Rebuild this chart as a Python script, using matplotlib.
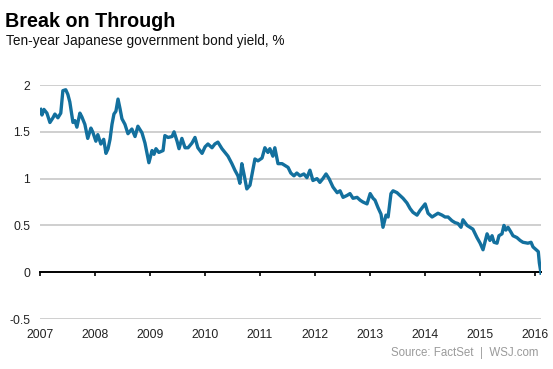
import numpy as np
import pandas as pd
import matplotlib
matplotlib.use("Agg")
import matplotlib.pyplot as plt
import matplotlib.dates as mdates

plt.rcParams["font.family"] = ["Liberation Sans", "DejaVu Sans"]

TITLE = "Break on Through"
SUBTITLE = "Ten-year Japanese government bond yield, %"
SOURCE = "Source: FactSet  |  WSJ.com"

# ten-year JGB yield
dates = [
    "2007-01-05", "2007-01-14", "2007-01-27", "2007-02-16", "2007-03-08", "2007-03-28",
    "2007-04-10", "2007-04-30", "2007-05-19", "2007-06-02", "2007-06-21", "2007-07-05",
    "2007-07-18", "2007-08-08", "2007-08-21", "2007-09-03", "2007-09-23", "2007-10-06",
    "2007-10-26", "2007-11-14", "2007-12-05", "2007-12-17", "2008-01-07", "2008-01-20",
    "2008-02-09", "2008-02-28", "2008-03-14", "2008-03-28", "2008-04-10", "2008-04-23",
    "2008-05-06", "2008-05-19", "2008-06-02", "2008-06-15", "2008-06-28", "2008-07-18",
    "2008-08-07", "2008-09-02", "2008-09-23", "2008-10-12", "2008-11-08", "2008-11-28",
    "2008-12-24", "2009-01-14", "2009-01-27", "2009-02-09", "2009-02-28", "2009-03-28",
    "2009-04-09", "2009-04-30", "2009-05-27", "2009-06-09", "2009-06-29", "2009-07-12",
    "2009-07-31", "2009-08-21", "2009-09-10", "2009-10-06", "2009-10-26", "2009-11-14",
    "2009-12-12", "2010-01-01", "2010-01-20", "2010-02-16", "2010-03-07", "2010-03-27",
    "2010-04-23", "2010-05-13", "2010-06-02", "2010-06-28", "2010-07-18", "2010-08-07",
    "2010-08-20", "2010-09-02", "2010-09-16", "2010-10-05", "2010-10-26", "2010-11-14",
    "2010-11-28", "2010-12-18", "2011-01-14", "2011-02-02", "2011-02-22", "2011-03-07",
    "2011-03-27", "2011-04-09", "2011-04-30", "2011-05-27", "2011-06-16", "2011-07-06",
    "2011-07-24", "2011-08-14", "2011-09-02", "2011-09-23", "2011-10-19", "2011-11-08",
    "2011-11-28", "2011-12-18", "2012-01-14", "2012-02-02", "2012-02-22", "2012-03-14",
    "2012-04-03", "2012-04-29", "2012-05-27", "2012-06-15", "2012-07-05", "2012-07-31",
    "2012-08-20", "2012-09-09", "2012-10-06", "2012-10-26", "2012-11-14", "2012-12-11",
    "2013-01-01", "2013-01-20", "2013-02-02", "2013-02-22", "2013-03-14", "2013-03-27",
    "2013-04-16", "2013-04-30", "2013-05-19", "2013-06-02", "2013-06-28", "2013-07-18",
    "2013-08-07", "2013-09-02", "2013-09-23", "2013-10-12", "2013-11-08", "2013-11-28",
    "2014-01-01", "2014-01-20", "2014-02-16", "2014-03-07", "2014-03-27", "2014-04-23",
    "2014-05-13", "2014-06-02", "2014-06-28", "2014-07-18", "2014-08-07", "2014-08-27",
    "2014-09-09", "2014-10-06", "2014-10-26", "2014-11-14", "2014-12-11", "2015-01-01",
    "2015-01-20", "2015-02-02", "2015-02-16", "2015-03-07", "2015-03-21", "2015-04-03",
    "2015-04-23", "2015-05-06", "2015-05-26", "2015-06-08", "2015-06-21", "2015-07-05",
    "2015-07-24", "2015-08-07", "2015-09-02", "2015-09-23", "2015-10-12", "2015-11-14",
    "2015-12-05", "2015-12-18", "2016-01-08", "2016-01-22", "2016-01-29", "2016-02-09",
]
yields = [
    1.74, 1.68, 1.74, 1.70, 1.60, 1.65,
    1.69, 1.65, 1.70, 1.94, 1.95, 1.90,
    1.82, 1.60, 1.62, 1.55, 1.70, 1.66,
    1.58, 1.43, 1.54, 1.50, 1.40, 1.47,
    1.37, 1.42, 1.27, 1.32, 1.42, 1.58,
    1.69, 1.72, 1.85, 1.75, 1.64, 1.58,
    1.48, 1.53, 1.45, 1.56, 1.49, 1.38,
    1.17, 1.30, 1.26, 1.32, 1.28, 1.30,
    1.46, 1.44, 1.45, 1.50, 1.40, 1.32,
    1.43, 1.33, 1.33, 1.38, 1.44, 1.33,
    1.27, 1.34, 1.37, 1.33, 1.37, 1.39,
    1.32, 1.28, 1.24, 1.16, 1.09, 1.03,
    0.95, 1.16, 1.05, 0.89, 0.93, 1.09,
    1.21, 1.19, 1.22, 1.33, 1.28, 1.32,
    1.24, 1.33, 1.16, 1.16, 1.14, 1.12,
    1.06, 1.03, 1.06, 1.03, 1.05, 1.01,
    1.09, 0.98, 1.00, 0.96, 1.00, 1.05,
    1.00, 0.91, 0.85, 0.87, 0.80, 0.82,
    0.84, 0.79, 0.80, 0.77, 0.75, 0.73,
    0.84, 0.79, 0.77, 0.69, 0.62, 0.48,
    0.61, 0.59, 0.84, 0.87, 0.85, 0.82,
    0.79, 0.74, 0.68, 0.64, 0.61, 0.66,
    0.73, 0.63, 0.59, 0.61, 0.63, 0.61,
    0.59, 0.59, 0.55, 0.53, 0.52, 0.48,
    0.56, 0.50, 0.48, 0.46, 0.37, 0.31,
    0.24, 0.32, 0.41, 0.34, 0.39, 0.32,
    0.31, 0.39, 0.41, 0.50, 0.45, 0.48,
    0.43, 0.39, 0.37, 0.34, 0.32, 0.31,
    0.32, 0.27, 0.24, 0.22, 0.10, -0.01,
]
y_ticks = [-0.5, 0, 0.5, 1, 1.5, 2]
y_tick_labels = ["-0.5", "0", "0.5", "1", "1.5", "2"]
years = list(range(2007, 2017))

series = pd.Series(yields, index=pd.to_datetime(dates))

fig = plt.figure(figsize=(5.53, 3.69), dpi=100)
ax = fig.add_axes([0.0723, 0.1355, 0.906, 0.634])

for v in y_ticks:
    if v != 0:
        ax.axhline(v, color="#cccccc", linewidth=1.3, zorder=1)

ax.plot(series.index, series.values, color="#13709e", linewidth=2.4,
        solid_joinstyle="round", zorder=3)

ax.set_xlim(pd.Timestamp("2007-01-01"), pd.Timestamp("2016-02-09"))
ax.set_ylim(-0.5, 2.0)

for side in ["top", "right", "left"]:
    ax.spines[side].set_visible(False)
ax.spines["bottom"].set_position(("data", 0))
ax.spines["bottom"].set_color("black")
ax.spines["bottom"].set_linewidth(1.4)
ax.spines["bottom"].set_zorder(2)

ax.set_xticks([pd.Timestamp(f"{y}-01-01") for y in years])
ax.set_xticklabels([str(y) for y in years])
ax.tick_params(axis="x", direction="out", length=3, width=1.2, color="black",
               pad=38, labelsize=8.8, labelcolor="#222222")

ax.set_yticks(y_ticks)
ax.set_yticklabels(y_tick_labels)
ax.tick_params(axis="y", length=0, pad=7, labelsize=8.8, labelcolor="#222222")

fig.text(0.009, 0.927, TITLE, fontsize=14.2, fontweight="bold", color="black",
         ha="left", va="baseline")
fig.text(0.011, 0.878, SUBTITLE, fontsize=9.8, color="#111111",
         ha="left", va="baseline")
fig.text(0.973, 0.035, SOURCE, fontsize=8.3, color="#9a9a9a",
         ha="right", va="baseline")

fig.savefig("out.png", dpi=100)
